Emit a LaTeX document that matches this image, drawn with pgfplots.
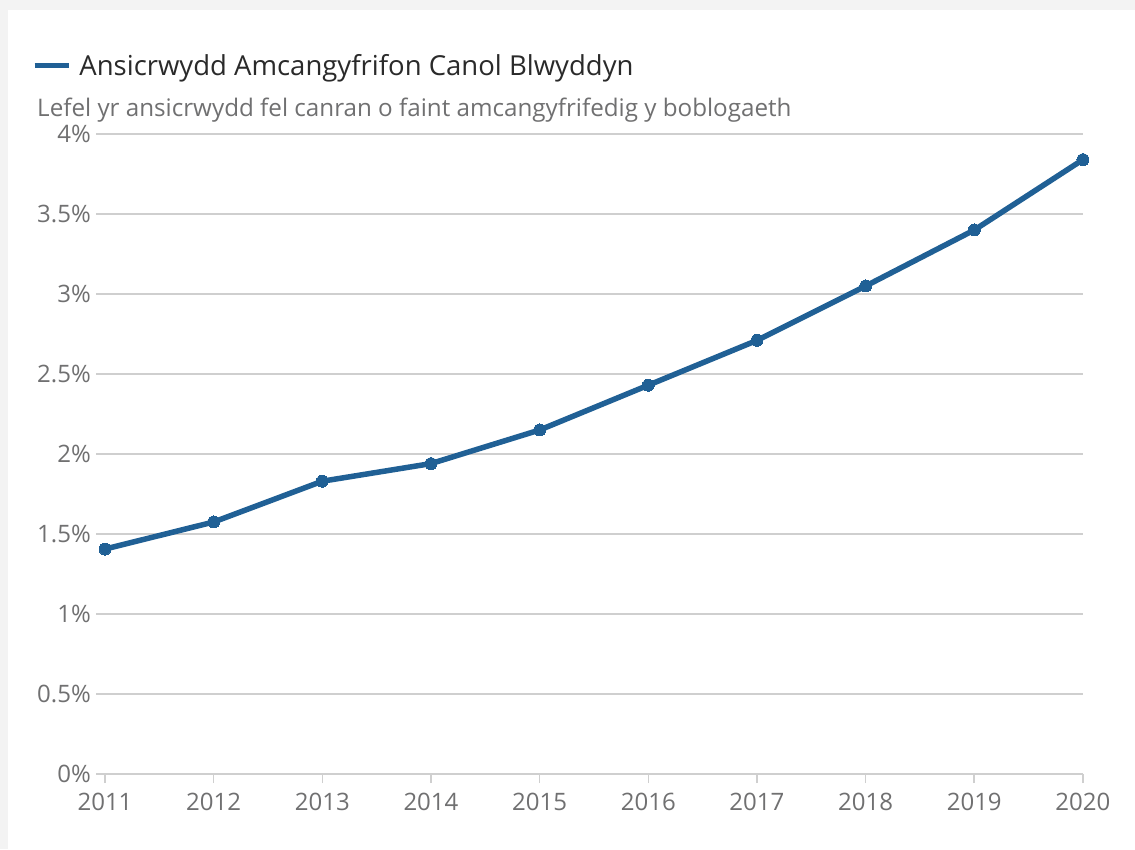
\documentclass[border=0pt]{standalone}
\usepackage{fontspec}
\setmainfont{Open Sans}
\usepackage{pgfplots}
\pgfplotsset{compat=1.18}
\definecolor{lineblue}{HTML}{206095}
\definecolor{gridgray}{HTML}{CFCFCF}
\definecolor{labelgray}{HTML}{707071}
\definecolor{titlegray}{HTML}{2A2A2A}
\definecolor{bggray}{HTML}{F3F3F3}
\begin{document}
\begin{tikzpicture}[x=1pt,y=1pt]
\fill[bggray] (0,0) rectangle (1135,849);
\fill[white] (8,0) rectangle (1135,839);
\node[anchor=base west, inner sep=0pt, text=labelgray, font=\fontsize{24.2}{29}\selectfont]
  at (37,732) {Lefel yr ansicrwydd fel canran o faint amcangyfrifedig y boblogaeth};
\begin{axis}[
    at={(105pt,75pt)}, anchor=south west,
    scale only axis, width=978pt, height=640pt,
    xmin=2011, xmax=2020, ymin=0, ymax=4,
    xtick={2011,...,2020},
    ytick={0,0.5,...,4},
    axis line style={draw=none},
    ymajorgrids, grid style={gridgray, line width=1.5pt},
    tick pos=left, tick align=outside, major tick length=9pt,
    tick style={gridgray, line width=1.5pt},
    xticklabel style={/pgf/number format/1000 sep={}, inner sep=0pt, yshift=-10pt},
    yticklabel={\pgfmathprintnumber{\tick}\%},
    yticklabel style={inner sep=0pt, xshift=-5pt},
    /pgf/number format/assume math mode=true,
    tick label style={text=labelgray, font=\fontsize{24}{28}\selectfont},
    legend style={draw=none, fill=none, at={(axis description cs:-0.0747,1.107)},
      anchor=west, inner sep=0pt, text=titlegray,
      font=\fontsize{27.5}{32}\selectfont},
    legend image code/.code={\draw[line width=5pt, lineblue] (0pt,0pt) -- (34pt,0pt);
      \path (40pt,0pt);},
    legend cell align=left,
    clip=false,
]
\addplot[lineblue, line width=5.5pt, mark=*, mark size=6pt,
  mark options={line width=0pt}] coordinates {
(2011,1.406) (2012,1.575) (2013,1.83) (2014,1.94) (2015,2.15)
(2016,2.43) (2017,2.71) (2018,3.05) (2019,3.40) (2020,3.84)
};
\addlegendentry{Ansicrwydd Amcangyfrifon Canol Blwyddyn}
\end{axis}
\end{tikzpicture}
\end{document}
